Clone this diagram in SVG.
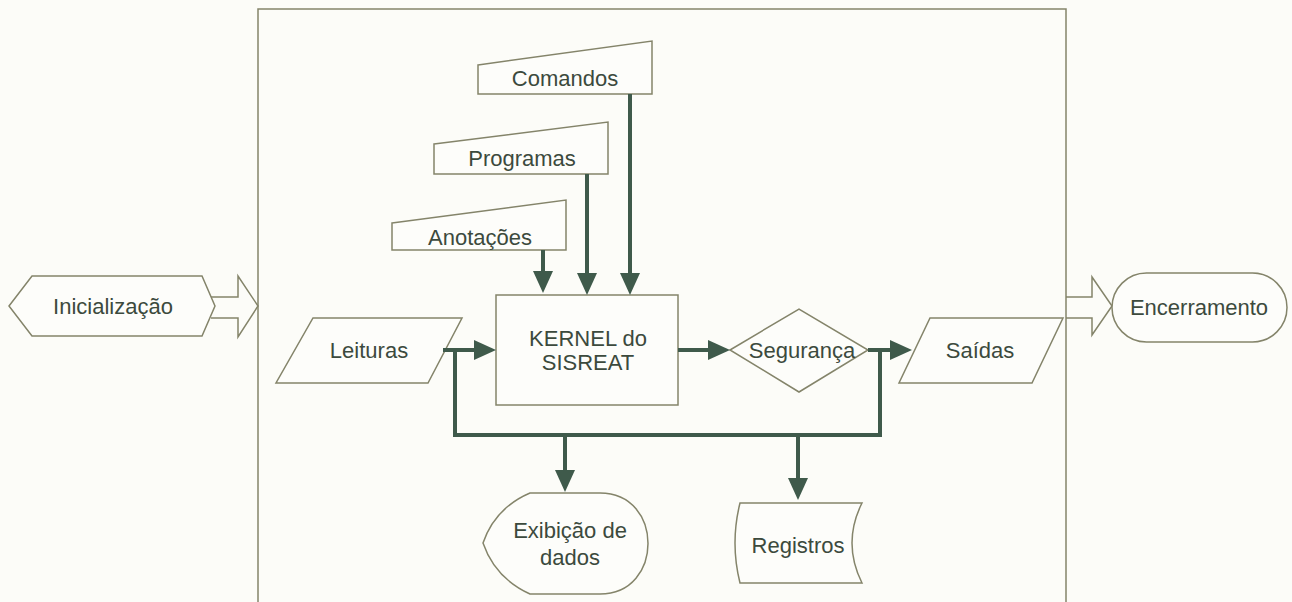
<svg xmlns="http://www.w3.org/2000/svg" width="1292" height="602" viewBox="0 0 1292 602">
<style>
.shape{fill:none;stroke:#84846a;stroke-width:1.5;stroke-linejoin:miter}
.fillw{fill:#fdfdfa}
.conn{fill:none;stroke:#3f5a4b;stroke-width:4}
text{font-family:"Liberation Sans",Arial,sans-serif;font-size:22px;fill:#3c4a3d;text-anchor:middle;dominant-baseline:central}
</style>
<defs>
<marker id="ah" markerUnits="userSpaceOnUse" markerWidth="22" markerHeight="20" refX="10" refY="10" orient="auto">
<path d="M0,0 L22,10 L0,20 Z" fill="#3f5a4b"/>
</marker>
</defs>
<rect x="0" y="0" width="1292" height="602" fill="#fcfcf8"/>
<g id="frame"><path class="shape" d="M258,602 V9 H1066 V602"/></g>
<g id="inicializacao">
<path class="shape fillw" d="M9,306 L32,276 L202,276 L215,306 L202,336 L32,336 Z"/>
<text x="113" y="306">Inicialização</text>
</g>
<g id="arrow-in"><path class="shape" d="M211,297 L238,297 L238,276 L258,306 L238,337 L238,318 L211,318"/></g>
<g id="arrow-out"><path class="shape" d="M1066,297 L1092,297 L1092,277 L1112,306 L1092,335 L1092,318 L1066,318"/></g>
<g id="encerramento">
<rect class="shape fillw" x="1112" y="273" width="175" height="69" rx="34.5"/>
<text x="1199" y="307">Encerramento</text>
</g>
<g id="comandos">
<path class="shape fillw" d="M478,65 L652,41 L652,94 L478,94 Z"/>
<text x="565" y="78">Comandos</text>
</g>
<g id="programas">
<path class="shape fillw" d="M434,144 L608,122 L608,174 L434,174 Z"/>
<text x="522" y="158">Programas</text>
</g>
<g id="anotacoes">
<path class="shape fillw" d="M392,223 L566,200 L566,250 L392,250 Z"/>
<text x="480" y="237">Anotações</text>
</g>
<g id="kernel">
<rect class="shape fillw" x="496" y="295" width="182" height="110"/>
<text x="588" y="338">KERNEL do</text>
<text x="588" y="362">SISREAT</text>
</g>
<g id="leituras">
<path class="shape fillw" d="M313,318 L462,318 L428,383 L276,383 Z"/>
<text x="369" y="350">Leituras</text>
</g>
<g id="seguranca">
<path class="shape fillw" d="M730,350 L799,309 L868,350 L799,392 Z"/>
<text x="802" y="350">Segurança</text>
</g>
<g id="saidas">
<path class="shape fillw" d="M930,318 L1063,318 L1032,383 L899,383 Z"/>
<text x="980" y="350">Saídas</text>
</g>
<g id="exibicao">
<path class="shape fillw" d="M530,493 Q495,508 483,543 Q495,578 530,594 L600,594 C664,594 664,493 600,493 Z"/>
<text x="570" y="530">Exibição de</text>
<text x="570" y="557">dados</text>
</g>
<g id="registros">
<path class="shape fillw" d="M740,503 L862,503 Q842,543 862,583 L740,583 Q730,543 740,503 Z"/>
<text x="798" y="545">Registros</text>
</g>
<g id="connectors">
<path class="conn" d="M630,94 V283" marker-end="url(#ah)"/>
<path class="conn" d="M587,174 V283" marker-end="url(#ah)"/>
<path class="conn" d="M543,250 V281" marker-end="url(#ah)"/>
<path class="conn" d="M443,350 H484" marker-end="url(#ah)"/>
<path class="conn" d="M678,350 H718" marker-end="url(#ah)"/>
<path class="conn" d="M868,350 H900" marker-end="url(#ah)"/>
<path class="conn" d="M455,350 V435 H880 V350"/>
<path class="conn" d="M565,435 V480" marker-end="url(#ah)"/>
<path class="conn" d="M798,435 V488" marker-end="url(#ah)"/>
</g>
</svg>
